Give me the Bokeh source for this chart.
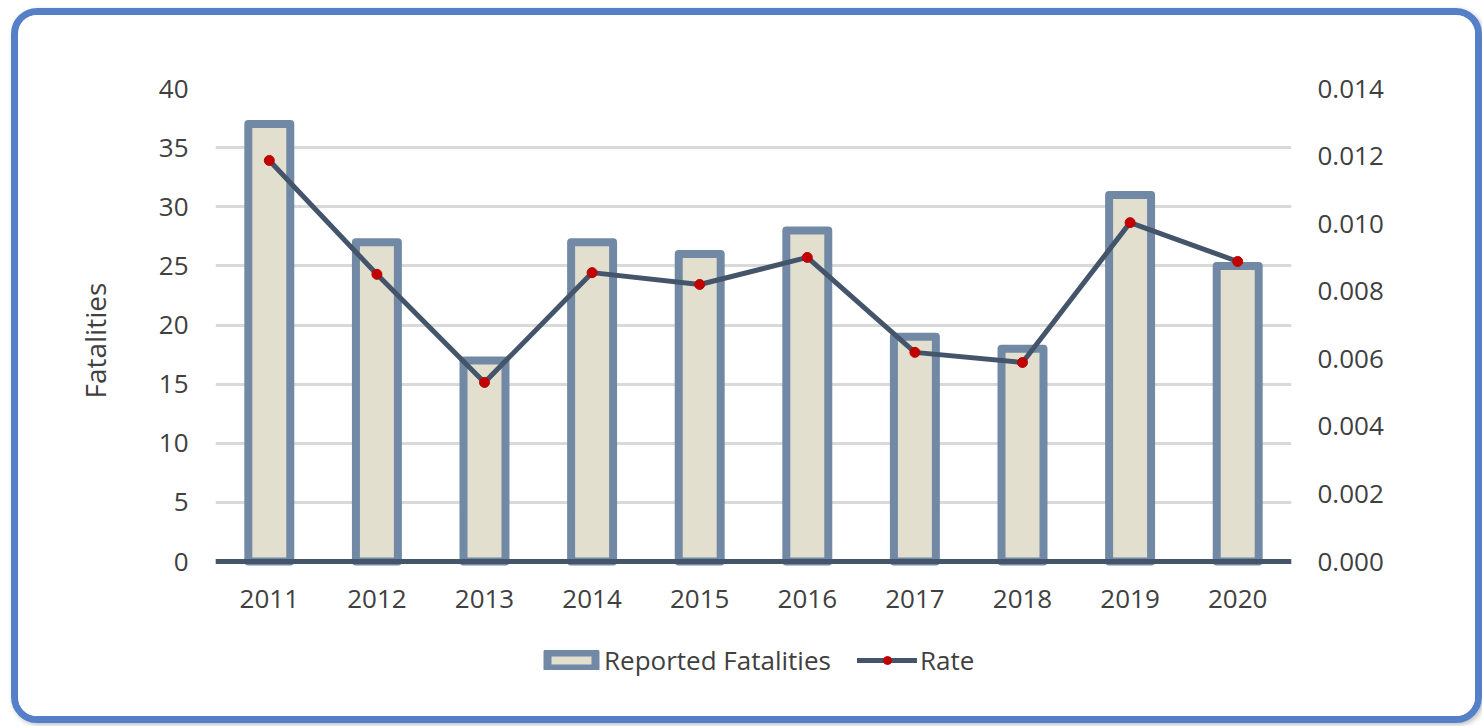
from bokeh.plotting import figure
from bokeh.models import (Range1d, LinearAxis, FixedTicker, NumeralTickFormatter,
                          Legend, LegendItem, ColumnDataSource, FactorRange, Title)
from bokeh.embed import file_html
from bokeh.resources import INLINE

years = ["2011", "2012", "2013", "2014", "2015", "2016", "2017", "2018", "2019", "2020"]
fatalities = [37, 27, 17, 27, 26, 28, 19, 18, 31, 25]
rate = [0.01187, 0.00850, 0.00530, 0.00855, 0.00820, 0.00900, 0.00619, 0.00589, 0.01003, 0.00888]
left_ticks = [0, 5, 10, 15, 20, 25, 30, 35, 40]
right_ticks = [0.0, 0.002, 0.004, 0.006, 0.008, 0.010, 0.012, 0.014]

FONT = "Open Sans"
TXT = "#404040"

# frame layout (pixels): value axis 0..40 spans 473 px, frame extends 139 px below zero
Y_MAX, R_MAX = 40, 0.014
PX_AXIS, PX_BELOW = 473, 139
y_lo = -PX_BELOW / PX_AXIS * Y_MAX
r_lo = y_lo / Y_MAX * R_MAX

src = ColumnDataSource(dict(year=years, fat=fatalities, rate=rate))

p = figure(width=1471, height=715, x_range=FactorRange(*years, range_padding=0),
           y_range=Range1d(y_lo, Y_MAX), output_backend="svg", toolbar_location=None,
           min_border_left=197, min_border_right=198, min_border_top=73, min_border_bottom=30)
p.extra_y_ranges = {"rate": Range1d(r_lo, R_MAX)}
p.styles = {"border": "7px solid #5580C8", "border-radius": "26px", "margin-left": "11px",
            "margin-top": "8px", "overflow": "hidden",
            "box-shadow": "2px 2px 5px rgba(0,0,0,0.25)"}

p.outline_line_color = None
p.xgrid.grid_line_color = None
p.ygrid.grid_line_color = "#D9D9D9"
p.ygrid.grid_line_width = 3
p.ygrid.ticker = FixedTicker(ticks=left_ticks)

bars = p.vbar(x="year", top="fat", bottom=0, width=0.39, source=src, fill_color="#E2DFCF",
              line_color="#7189A5", line_width=8, line_join="round")
ln = p.line(x="year", y="rate", source=src, y_range_name="rate", line_color="#44546A",
            line_width=5, line_cap="round", line_join="round")
pts = p.scatter(x="year", y="rate", source=src, y_range_name="rate", size=10,
                fill_color="#C00000", line_color="#C00000")

# category axis sits on the zero line
xa = p.xaxis[0]
xa.fixed_location = 0
xa.axis_line_color = "#44546A"
xa.axis_line_width = 5
xa.major_tick_line_color = None
xa.minor_tick_line_color = None
xa.major_label_standoff = 22
xa.major_label_text_font = FONT
xa.major_label_text_font_size = "26px"
xa.major_label_text_color = TXT

ya = p.yaxis[0]
ya.ticker = FixedTicker(ticks=left_ticks)
ya.axis_line_color = None
ya.major_tick_line_color = None
ya.minor_tick_line_color = None
ya.major_label_standoff = 21
ya.major_label_text_font = FONT
ya.major_label_text_font_size = "26px"
ya.major_label_text_color = TXT

ylabel = Title(text="Fatalities", align="left", offset=302, text_font=FONT,
               text_font_size="28px", text_font_style="normal", text_color=TXT, standoff=84)
p.add_layout(ylabel, "left")

ra = LinearAxis(y_range_name="rate", ticker=FixedTicker(ticks=right_ticks),
                formatter=NumeralTickFormatter(format="0.000"))
ra.axis_line_color = None
ra.major_tick_line_color = None
ra.minor_tick_line_color = None
ra.major_label_standoff = 20
ra.major_label_text_font = FONT
ra.major_label_text_font_size = "26px"
ra.major_label_text_color = TXT
p.add_layout(ra, "right")

legend = Legend(items=[LegendItem(label="Reported Fatalities", renderers=[bars]),
                       LegendItem(label="Rate", renderers=[ln, pts])],
                orientation="horizontal", location=(326, 22),
                glyph_width=60, glyph_height=20, label_standoff=3, spacing=26,
                padding=0, margin=0, border_line_color=None, background_fill_alpha=0,
                label_text_font=FONT, label_text_font_size="26px", label_text_color=TXT)
p.add_layout(legend, "center")

open("out.html", "w").write(file_html(p, INLINE))
